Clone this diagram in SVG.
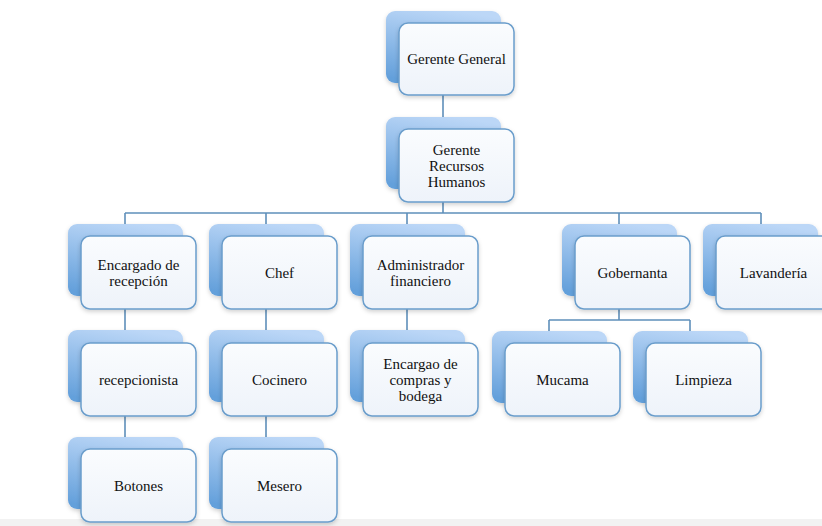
<svg xmlns="http://www.w3.org/2000/svg" width="822" height="526" viewBox="0 0 822 526">
<defs>
<linearGradient id="bg" x1="0.6" y1="0" x2="0.35" y2="1">
<stop offset="0" stop-color="#bcd7f7"/>
<stop offset="1" stop-color="#64a0db"/>
</linearGradient>
<linearGradient id="fg" x1="0" y1="0" x2="0" y2="1">
<stop offset="0" stop-color="#fafcfe"/>
<stop offset="1" stop-color="#eef3fa"/>
</linearGradient>
<filter id="sh" x="-20%" y="-20%" width="140%" height="140%">
<feDropShadow dx="0" dy="2" stdDeviation="2" flood-color="#000" flood-opacity="0.18"/>
</filter>
</defs>
<style>
.back{fill:url(#bg);filter:url(#sh)}
.front{fill:url(#fg);stroke:#6a9dcb;stroke-width:1.5;filter:url(#sh)}
.t{font-family:"Liberation Serif","Times New Roman",serif;font-size:15px;fill:#111;text-anchor:middle}
.c line{stroke:#5e8fba;stroke-width:1.6;fill:none}
</style>
<rect width="822" height="526" fill="#fff"/>
<rect x="0" y="519" width="822" height="7" fill="#f2f2f2"/>
<g class="c" id="connectors">
<line x1="443" y1="83" x2="443" y2="117"/>
<line x1="443" y1="189" x2="443" y2="213"/>
<line x1="125" y1="213" x2="761" y2="213"/>
<line x1="125" y1="213" x2="125" y2="224"/>
<line x1="266" y1="213" x2="266" y2="224"/>
<line x1="407" y1="213" x2="407" y2="224"/>
<line x1="619" y1="213" x2="619" y2="224"/>
<line x1="761" y1="213" x2="761" y2="224"/>
<line x1="125" y1="296" x2="125" y2="330"/>
<line x1="125" y1="402" x2="125" y2="437"/>
<line x1="266" y1="296" x2="266" y2="330"/>
<line x1="266" y1="402" x2="266" y2="437"/>
<line x1="407" y1="296" x2="407" y2="330"/>
<line x1="619" y1="296" x2="619" y2="320"/>
<line x1="549" y1="320" x2="690" y2="320"/>
<line x1="549" y1="320" x2="549" y2="331"/>
<line x1="690" y1="320" x2="690" y2="331"/>
</g>
<g id="gerente-general">
<rect class="back" x="386" y="11" width="115" height="72" rx="9"/>
<rect class="front" x="399" y="23" width="115" height="72" rx="9"/>
<text class="t" x="456.5" y="64">Gerente General</text>
</g>
<g id="gerente-rh">
<rect class="back" x="386" y="117" width="115" height="72" rx="9"/>
<rect class="front" x="399" y="129" width="115" height="73" rx="9"/>
<text class="t" x="456.5" y="155">Gerente</text>
<text class="t" x="456.5" y="171">Recursos</text>
<text class="t" x="456.5" y="187">Humanos</text>
</g>
<g id="encargado-recepcion">
<rect class="back" x="68" y="224" width="115" height="72" rx="9"/>
<rect class="front" x="81" y="236" width="115" height="73" rx="9"/>
<text class="t" x="138.5" y="270">Encargado de</text>
<text class="t" x="138.5" y="286">recepción</text>
</g>
<g id="chef">
<rect class="back" x="209" y="224" width="115" height="72" rx="9"/>
<rect class="front" x="222" y="236" width="115" height="73" rx="9"/>
<text class="t" x="279.5" y="278">Chef</text>
</g>
<g id="administrador">
<rect class="back" x="350" y="224" width="115" height="72" rx="9"/>
<rect class="front" x="363" y="236" width="115" height="73" rx="9"/>
<text class="t" x="420.5" y="270">Administrador</text>
<text class="t" x="420.5" y="286">financiero</text>
</g>
<g id="gobernanta">
<rect class="back" x="562" y="224" width="115" height="72" rx="9"/>
<rect class="front" x="575" y="236" width="115" height="73" rx="9"/>
<text class="t" x="632.5" y="278">Gobernanta</text>
</g>
<g id="lavanderia">
<rect class="back" x="703" y="224" width="115" height="72" rx="9"/>
<rect class="front" x="716" y="236" width="115" height="73" rx="9"/>
<text class="t" x="773.5" y="278">Lavandería</text>
</g>
<g id="recepcionista">
<rect class="back" x="68" y="330" width="115" height="72" rx="9"/>
<rect class="front" x="81" y="343" width="115" height="73" rx="9"/>
<text class="t" x="138.5" y="385">recepcionista</text>
</g>
<g id="cocinero">
<rect class="back" x="209" y="330" width="115" height="72" rx="9"/>
<rect class="front" x="222" y="343" width="115" height="73" rx="9"/>
<text class="t" x="279.5" y="385">Cocinero</text>
</g>
<g id="encargao-compras">
<rect class="back" x="350" y="330" width="115" height="72" rx="9"/>
<rect class="front" x="363" y="343" width="115" height="73" rx="9"/>
<text class="t" x="420.5" y="369">Encargao de</text>
<text class="t" x="420.5" y="385">compras y</text>
<text class="t" x="420.5" y="401">bodega</text>
</g>
<g id="mucama">
<rect class="back" x="492" y="331" width="115" height="72" rx="9"/>
<rect class="front" x="505" y="343" width="115" height="73" rx="9"/>
<text class="t" x="562.5" y="385">Mucama</text>
</g>
<g id="limpieza">
<rect class="back" x="633" y="331" width="115" height="72" rx="9"/>
<rect class="front" x="646" y="343" width="115" height="73" rx="9"/>
<text class="t" x="703.5" y="385">Limpieza</text>
</g>
<g id="botones">
<rect class="back" x="68" y="437" width="115" height="72" rx="9"/>
<rect class="front" x="81" y="449" width="115" height="73" rx="9"/>
<text class="t" x="138.5" y="491">Botones</text>
</g>
<g id="mesero">
<rect class="back" x="209" y="437" width="115" height="72" rx="9"/>
<rect class="front" x="222" y="449" width="115" height="73" rx="9"/>
<text class="t" x="279.5" y="491">Mesero</text>
</g>
</svg>
